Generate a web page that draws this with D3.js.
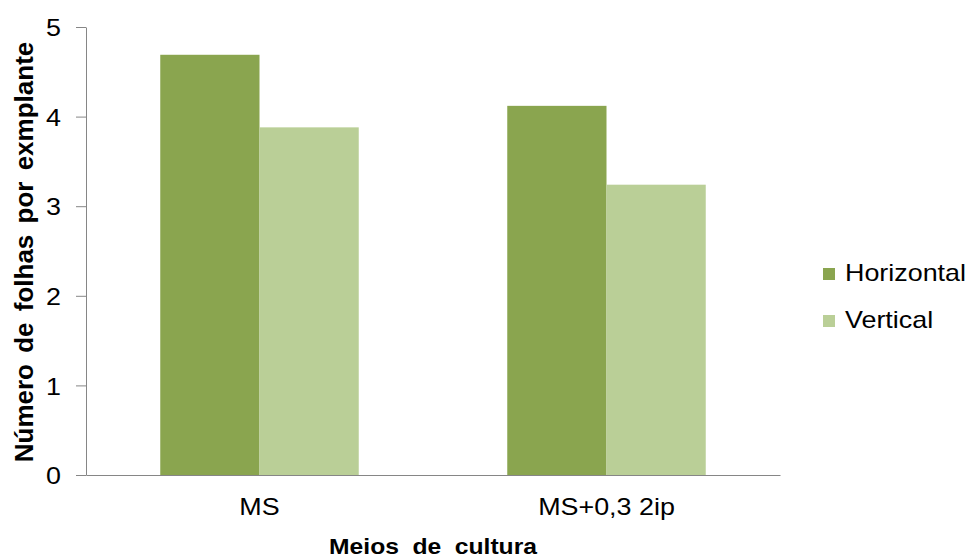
<!DOCTYPE html>
<html>
<head>
<meta charset="utf-8">
<script src="https://cdn.jsdelivr.net/npm/d3@7"></script>
<style>
  html, body { margin: 0; padding: 0; background: #fff; }
  svg { display: block; font-family: "Liberation Sans", Arial, sans-serif; }
</style>
</head>
<body>
<svg id="chart" width="971" height="560"></svg>
<script>
// Culture media and leaf counts per explant for each orientation
const categories = ["MS", "MS+0,3 2ip"];
const seriesNames = ["Horizontal", "Vertical"];
const horizontalValues = [4.69, 4.12];
const verticalValues = [3.88, 3.24];
const yTicks = [0, 1, 2, 3, 4, 5];
const colors = ["#8aa54f", "#bacf97"];

const FONT = "Liberation Sans, Arial, sans-serif";
const WIDEN = 1.12; // slightly wide lettering of the horizontal labels

const svg = d3.select("#chart");
const margin = { left: 86, right: 191, top: 27, bottom: 85 };
const width = 971 - margin.left - margin.right;
const height = 560 - margin.top - margin.bottom;

const g = svg.append("g").attr("transform", `translate(${margin.left},${margin.top})`);

const x = d3.scaleBand().domain(categories).range([0, width]).padding(0);
const groupWidth = x.bandwidth() * 0.572;
const xs = d3.scaleBand().domain(seriesNames).range([0, groupWidth]).padding(0);
const y = d3.scaleLinear().domain([0, 5]).range([height, 0]);

const rows = categories.map((c, i) => ({
  category: c,
  values: [
    { series: "Horizontal", value: horizontalValues[i] },
    { series: "Vertical", value: verticalValues[i] }
  ]
}));

// Bars
g.selectAll("g.group")
  .data(rows)
  .join("g")
  .attr("class", "group")
  .attr("transform", d => `translate(${x(d.category) + (x.bandwidth() - groupWidth) / 2},0)`)
  .selectAll("rect")
  .data(d => d.values)
  .join("rect")
  .attr("x", d => xs(d.series))
  .attr("y", d => y(d.value))
  .attr("width", xs.bandwidth())
  .attr("height", d => height - y(d.value))
  .attr("fill", (d, i) => colors[i]);

// Y axis
const yAxis = g.append("g")
  .call(d3.axisLeft(y).tickValues(yTicks).tickFormat(d3.format("d"))
    .tickSize(10).tickSizeOuter(0).tickPadding(15));
yAxis.select(".domain").attr("stroke", "#868686");
yAxis.selectAll(".tick line").attr("stroke", "#868686");
yAxis.selectAll(".tick text").attr("font-size", 24).attr("fill", "#000")
  .attr("font-family", FONT).attr("dy", "0.36em");

// X axis
const xAxis = g.append("g")
  .attr("transform", `translate(0,${height})`)
  .call(d3.axisBottom(x).tickSize(0).tickPadding(23));
xAxis.select(".domain").attr("stroke", "#868686");
xAxis.selectAll(".tick text").attr("font-size", 24).attr("fill", "#000")
  .attr("font-family", FONT);

// Axis titles
svg.append("text")
  .attr("transform", `translate(33,252) rotate(-90)`)
  .attr("text-anchor", "middle")
  .attr("font-size", 26)
  .attr("font-weight", "bold")
  .attr("word-spacing", 4)
  .text("Número de folhas por exmplante");

const xTitle = svg.append("text")
  .attr("x", margin.left + width / 2)
  .attr("y", 554)
  .attr("text-anchor", "middle")
  .attr("font-size", 22)
  .attr("font-weight", "bold")
  .attr("word-spacing", 6)
  .text("Meios de cultura");

// Legend
const legend = svg.append("g").attr("transform", "translate(823,268)");
const items = legend.selectAll("g")
  .data(seriesNames)
  .join("g")
  .attr("transform", (d, i) => `translate(0,${i * 47})`);
items.append("rect")
  .attr("width", 12)
  .attr("height", 12)
  .attr("fill", (d, i) => colors[i]);
const legendText = items.append("text")
  .attr("x", 22)
  .attr("y", 13)
  .attr("font-size", 24)
  .text(d => d);

// Widen horizontal lettering a little
function widen(sel) {
  sel.each(function () {
    const len = this.getComputedTextLength();
    d3.select(this).attr("textLength", len * WIDEN).attr("lengthAdjust", "spacingAndGlyphs");
  });
}
widen(yAxis.selectAll(".tick text"));
widen(xAxis.selectAll(".tick text"));
widen(xTitle);
widen(legendText);
</script>
</body>
</html>
